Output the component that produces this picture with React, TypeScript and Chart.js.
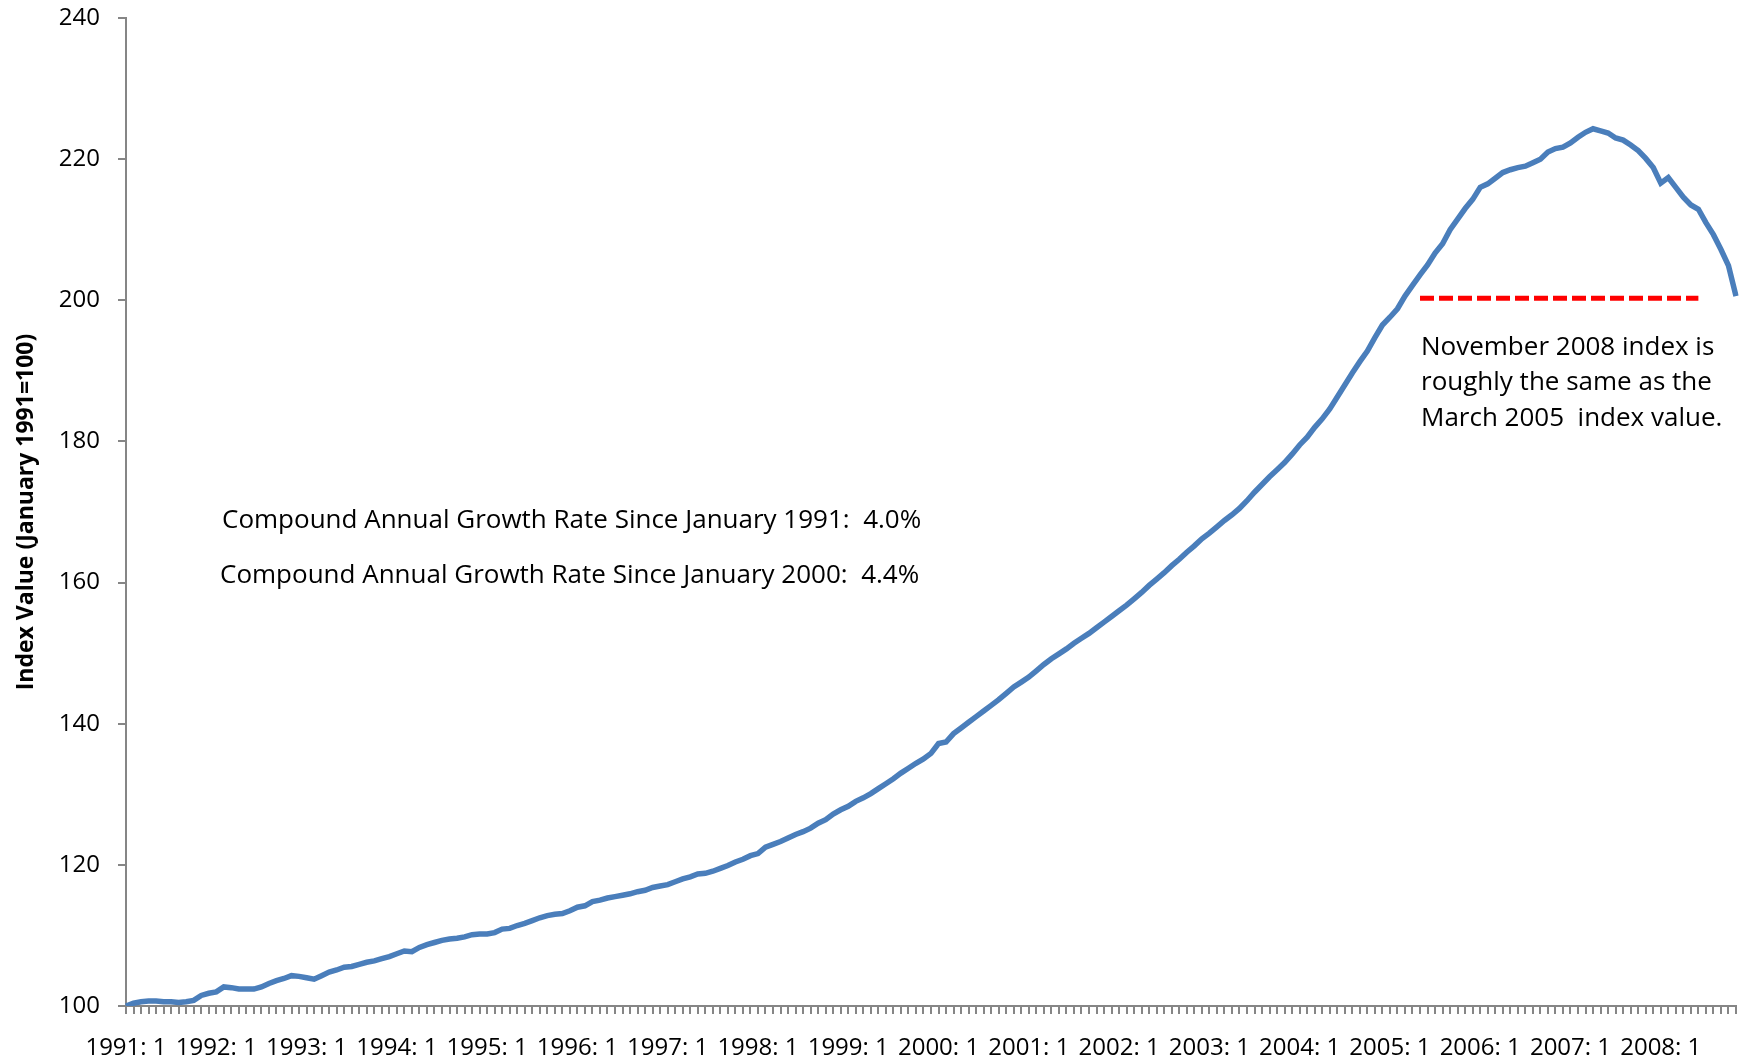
import React, { useEffect, useRef } from "react";
import { Chart, registerables } from "chart.js";

Chart.register(...registerables);

// Monthly index values (January 1991 = 100), Jan 1991 .. Nov 2008
const y1991 = [100.0, 100.4, 100.6, 100.7, 100.7, 100.6, 100.6, 100.5, 100.6, 100.8, 101.5, 101.8];
const y1992 = [102.0, 102.7, 102.6, 102.4, 102.4, 102.4, 102.7, 103.2, 103.6, 103.9, 104.3, 104.2];
const y1993 = [104.0, 103.8, 104.3, 104.8, 105.1, 105.5, 105.6, 105.9, 106.2, 106.4, 106.7, 107.0];
const y1994 = [107.4, 107.8, 107.7, 108.3, 108.7, 109.0, 109.3, 109.5, 109.6, 109.8, 110.1, 110.2];
const y1995 = [110.2, 110.4, 110.9, 111.0, 111.4, 111.7, 112.1, 112.5, 112.8, 113.0, 113.1, 113.5];
const y1996 = [114.0, 114.2, 114.8, 115.0, 115.3, 115.5, 115.7, 115.9, 116.2, 116.4, 116.8, 117.0];
const y1997 = [117.2, 117.6, 118.0, 118.3, 118.7, 118.8, 119.1, 119.5, 119.9, 120.4, 120.8, 121.3];
const y1998 = [121.6, 122.5, 122.9, 123.3, 123.8, 124.3, 124.7, 125.2, 125.9, 126.4, 127.2, 127.8];
const y1999 = [128.3, 129.0, 129.5, 130.1, 130.8, 131.5, 132.2, 133.0, 133.7, 134.4, 135.0, 135.8];
const y2000 = [137.2, 137.4, 138.6, 139.4, 140.2, 141.0, 141.8, 142.6, 143.4, 144.3, 145.2, 145.9];
const y2001 = [146.6, 147.5, 148.4, 149.2, 149.9, 150.6, 151.4, 152.1, 152.8, 153.6, 154.4, 155.2];
const y2002 = [156.0, 156.8, 157.7, 158.6, 159.6, 160.5, 161.4, 162.4, 163.3, 164.3, 165.2, 166.2];
const y2003 = [167.0, 167.9, 168.8, 169.6, 170.5, 171.6, 172.8, 173.9, 175.0, 176.0, 177.0, 178.2];
const y2004 = [179.5, 180.6, 182.0, 183.2, 184.6, 186.3, 188.0, 189.7, 191.3, 192.8, 194.7, 196.5];
const y2005 = [197.6, 198.8, 200.6, 202.1, 203.6, 205.0, 206.7, 208.0, 210.0, 211.5, 213.0, 214.3];
const y2006 = [216.0, 216.5, 217.3, 218.1, 218.5, 218.8, 219.0, 219.5, 220.0, 221.0, 221.5, 221.7];
const y2007 = [222.3, 223.1, 223.8, 224.3, 224.0, 223.7, 223.0, 222.7, 222.0, 221.2, 220.1, 218.8];
const y2008 = [216.6, 217.4, 216.0, 214.6, 213.5, 212.9, 211.0, 209.3, 207.2, 204.9, 200.6];

const yearBlocks = [y1991, y1992, y1993, y1994, y1995, y1996, y1997, y1998, y1999, y2000,
  y2001, y2002, y2003, y2004, y2005, y2006, y2007, y2008];
const startYear = 1991;

// Reference line: November 2008 level, drawn across these category indices
const refLevel = 200.3;
const refFrom = 172;
const refTo = 209;

const yTicks = [100, 120, 140, 160, 180, 200, 220, 240];

const noteLeft = [
  "Compound Annual Growth Rate Since January 1991:  4.0%",
  "Compound Annual Growth Rate Since January 2000:  4.4%",
];
const noteRight = [
  "November 2008 index is",
  "roughly the same as the",
  "March 2005  index value.",
];

const values: number[] = yearBlocks.flat();
const categories: string[] = [];
yearBlocks.forEach((blk, yi) => {
  blk.forEach((_, mi) => categories.push(`${startYear + yi}: ${mi + 1}`));
});
const refData = values.map((_, i) => (i >= refFrom && i <= refTo ? refLevel : null));

const FONT = "'Open Sans', 'Noto Sans', sans-serif";

const notesPlugin = {
  id: "notes",
  afterDraw(chart: any) {
    const ctx = chart.ctx;
    ctx.save();
    ctx.fillStyle = "#000";
    ctx.textBaseline = "middle";
    ctx.textAlign = "left";
    ctx.font = `26px ${FONT}`;
    ctx.fillText(noteLeft[0], 222, 521);
    ctx.fillText(noteLeft[1], 220, 576);
    const ys = [348, 383, 419];
    noteRight.forEach((t, i) => ctx.fillText(t, 1421, ys[i]));
    ctx.restore();
  },
};

export default function App() {
  const ref = useRef<HTMLCanvasElement>(null);
  useEffect(() => {
    if (!ref.current) return;
    const axisColor = "#868686";
    const chart = new Chart(ref.current, {
      type: "line",
      data: {
        labels: categories,
        datasets: [
          {
            data: values,
            borderColor: "#4A7EBB",
            borderWidth: 5.5,
            pointRadius: 0,
            tension: 0,
            fill: false,
          },
          {
            data: refData,
            borderColor: "#FF0000",
            borderWidth: 5,
            borderDash: [14, 5],
            borderCapStyle: "butt",
            pointRadius: 0,
            fill: false,
            spanGaps: false,
          },
        ],
      },
      options: {
        animation: false,
        responsive: false,
        layout: { padding: { left: 0, top: 18, right: 3, bottom: 0 } },
        plugins: { legend: { display: false }, tooltip: { enabled: false }, title: { display: false } },
        scales: {
          x: {
            type: "category",
            offset: false,
            afterFit: (s: any) => { s.height = 56; s.paddingLeft = 0; s.paddingRight = 0; },
            border: { color: axisColor, width: 2 },
            grid: { drawOnChartArea: false, drawTicks: true, tickLength: 8, color: axisColor, lineWidth: 2, offset: false },
            ticks: {
              autoSkip: false,
              maxRotation: 0,
              minRotation: 0,
              padding: 20,
              color: "#000",
              font: { family: FONT, size: 24 },
              callback: (_v: any, i: number) => (i % 12 === 0 ? categories[i] : ""),
            },
          },
          y: {
            min: 100,
            max: 240,
            afterFit: (s: any) => { s.width = 126; s.paddingTop = 0; s.paddingBottom = 0; },
            afterBuildTicks: (s: any) => { s.ticks = yTicks.map((v) => ({ value: v })); },
            border: { color: axisColor, width: 2 },
            grid: { drawOnChartArea: false, drawTicks: true, tickLength: 8, color: axisColor, lineWidth: 2 },
            ticks: { padding: 18, color: "#000", font: { family: FONT, size: 24 } },
            title: {
              display: true,
              text: "Index Value (January 1991=100)",
              color: "#000",
              font: { family: FONT, size: 23, weight: "bold" },
              padding: { top: 13, bottom: 0 },
            },
          },
        },
      },
      plugins: [notesPlugin],
    });
    return () => chart.destroy();
  }, []);
  return (
    <div style={{ position: "fixed", left: 0, top: 0, width: 1739, height: 1062, background: "#fff" }}>
      <canvas ref={ref} width={1739} height={1062} />
    </div>
  );
}
